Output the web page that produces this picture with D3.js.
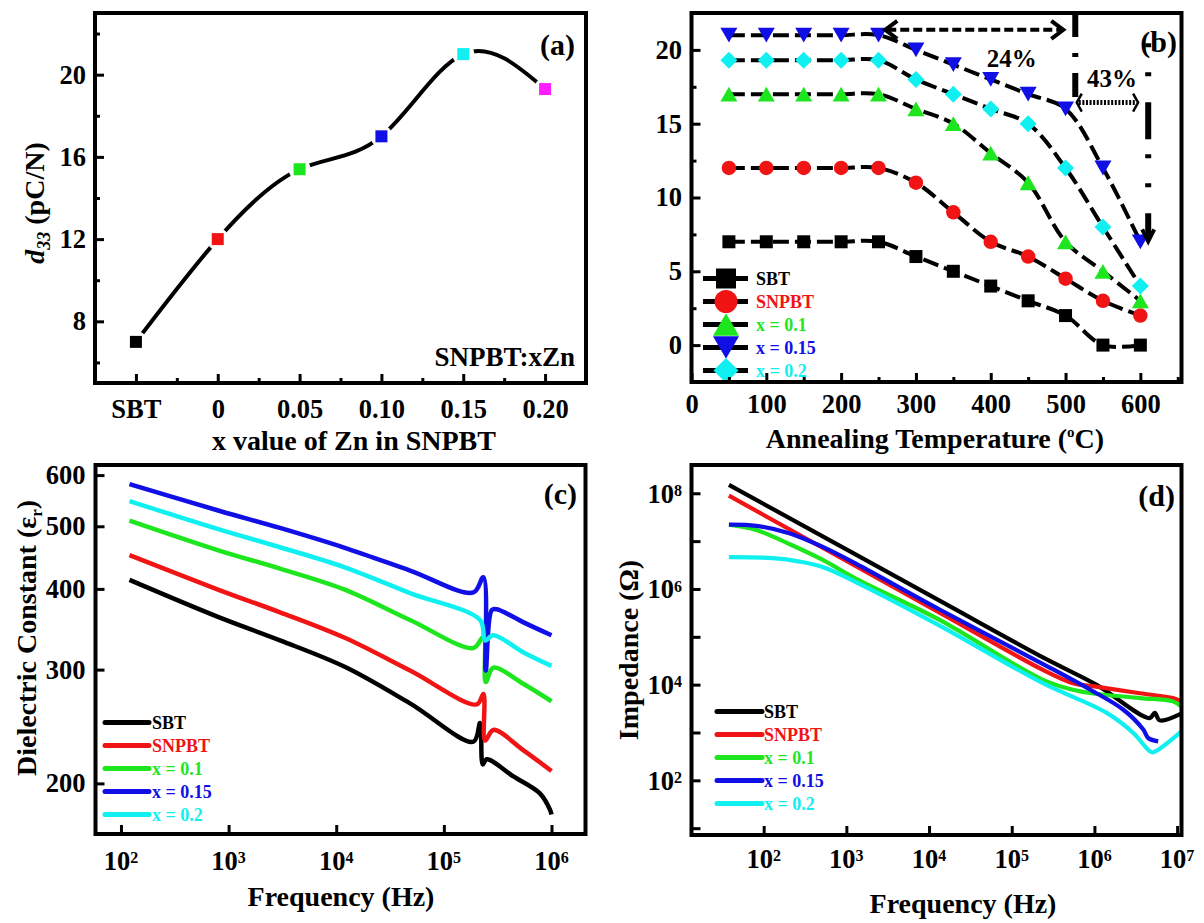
<!DOCTYPE html>
<html>
<head>
<meta charset="utf-8">
<script src="https://cdn.jsdelivr.net/npm/d3@7"></script>
<style>
  body { margin: 0; background: #fff; }
  svg text { font-family: "Liberation Serif", "Times New Roman", serif; font-weight: bold; }
</style>
</head>
<body>
<svg id="fig" width="1204" height="923"></svg>
<script>
// ---------- (a) d33 versus Zn content ----------
const znLabels = ["SBT", "0", "0.05", "0.10", "0.15", "0.20"];
const d33ByZn = [7, 12, 15.4, 17, 21, 19.3];
const znColors = ["#000000", "#f01414", "#1ee61e", "#0f0fe6", "#10f0f0", "#ff1eff"];

// ---------- (b) d33 versus annealing temperature ----------
const sampleNames = ["SBT", "SNPBT", "x = 0.1", "x = 0.15", "x = 0.2"];
const sampleColors = ["#000000", "#f01414", "#1ee61e", "#0f0fe6", "#10f0f0"];
const annealTemps = [50, 100, 150, 200, 250, 300, 350, 400, 450, 500, 550, 600];
const d33AnnealSBT   = [7, 7, 7, 7, 7, 6, 5, 4, 3, 2, 0, 0];
const d33AnnealSNPBT = [12, 12, 12, 12, 12, 11, 9, 7, 6, 4.5, 3, 2];
const d33AnnealZn010 = [17, 17, 17, 17, 17, 16, 15, 13, 11, 7, 5, 3];
const d33AnnealZn015 = [21, 21, 21, 21, 21, 20, 19, 18, 17, 16, 12, 7];
const d33AnnealZn020 = [19.3, 19.3, 19.3, 19.3, 19.3, 18, 17, 16, 15, 12, 8, 4];
const tempTicks = [0, 100, 200, 300, 400, 500, 600];

// ---------- (c) dielectric constant versus frequency: [Hz, eps_r] ----------
const epsSBT = [[120,413],[830,361],[3000,333],[12000,303],[48500,266],[188000,232],[217000,248],[230000,214],[250000,218],[443000,205],[780000,193],[970000,182],[1000000,179]];
const epsSNPBT = [[120,451],[830,398],[3000,368],[12000,336],[48500,299],[202000,265],[233000,275],[242000,233],[288000,242],[550000,225],[1000000,209]];
const epsZn010 = [[120,510],[830,458],[3000,430],[12000,399],[48500,358],[188000,324],[233000,337],[245000,287],[288000,302],[550000,285],[1000000,268]];
const epsZn015 = [[120,581],[830,528],[3000,497],[12000,463],[48500,427],[188000,395],[233000,417],[245000,299],[279000,371],[310000,372],[550000,355],[1000000,339]];
const epsZn020 = [[120,547],[830,494],[3000,464],[12000,432],[48500,394],[217000,358],[242000,333],[288000,339],[550000,319],[1000000,304]];
const epsTicks = [200, 300, 400, 500, 600];

// ---------- (d) impedance versus frequency: [Hz, ohm] ----------
const zSBT = [[38,1.5e8],[13400,5.7e5],[262000,3.4e4],[1050000,1.0e4],[4640000,2000],[5370000,2570],[6170000,1790],[11200000,2470]];
const zSNPBT = [[38,8.9e7],[13400,3.2e5],[238000,2.04e4],[550000,1.07e4],[1050000,9100],[3550000,6600],[8900000,5250],[11200000,4470]];
const zZn010 = [[38,2.2e7],[81,1.71e7],[204,8.7e6],[525,4.0e6],[1318,1.62e6],[13400,2.26e5],[238000,1.26e4],[550000,7800],[870000,6700],[3550000,5250],[8900000,4470],[11200000,3500]];
const zZn015 = [[38,2.21e7],[81,2.09e7],[204,1.46e7],[525,7.46e6],[1318,3.34e6],[13400,3.72e5],[262000,2.48e4],[890000,7830],[2240000,2990],[3900000,1150],[4470000,767],[5900000,652]];
const zZn020 = [[38,4.61e6],[129,4.4e6],[272,3.73e6],[525,2.85e6],[1318,1.38e6],[13400,1.72e5],[238000,1.07e4],[1410000,2570],[2950000,977],[4680000,404],[5100000,385],[11200000,1047]];

// Arrows marking the d33 drop in (b), in data units
const dropSpans = [
  { from: 259, to: 497, level: 21.36, label: "24%", labelX: 428, labelY: 18.83 },
  { from: 515, to: 597, level: 16.43, label: "43%", labelX: 562, labelY: 17.47 }
];
const dropGuides = [
  { at: 513, top: 22.5, bottom: 16.7 },
  { at: 610.5, top: 20.45, bottom: 7.3 }
];

const svg = d3.select("#fig");
const TICK_FS = 26.5;
const TITLE_FS = 28;

function styleAxis(a) {
  a.attr("font-family", null).attr("font-size", null);
  a.select(".domain").remove();
  a.selectAll(".tick line").attr("stroke", "#000").attr("stroke-width", 3);
  a.selectAll(".tick text").attr("fill", "#000").style("font-size", TICK_FS + "px");
}
function bottomTicks(x, y, values, len, fmt, pad) {
  const a = svg.append("g").attr("transform", `translate(0,${y.range()[0]})`)
    .call(d3.axisBottom(x).tickValues(values).tickSizeInner(-len).tickSizeOuter(0)
      .tickPadding(pad || 0).tickFormat(fmt || (() => "")));
  styleAxis(a);
  return a;
}
function leftTicks(x, y, values, len, fmt, pad) {
  const a = svg.append("g").attr("transform", `translate(${x.range()[0]},0)`)
    .call(d3.axisLeft(y).tickValues(values).tickSizeInner(-len).tickSizeOuter(0)
      .tickPadding(pad || 0).tickFormat(fmt || (() => "")));
  styleAxis(a);
  return a;
}
function drawFrame(x, y) {
  const [x0, x1] = x.range();
  const [yb, yt] = y.range();
  svg.append("rect").attr("x", x0).attr("y", yt).attr("width", x1 - x0).attr("height", yb - yt)
    .attr("fill", "none").attr("stroke", "#000").attr("stroke-width", 4);
}
function powerLabel(px, py, exp, anchor) {
  const t = svg.append("text").attr("x", px).attr("y", py).attr("text-anchor", anchor)
    .style("font-size", TICK_FS + "px");
  t.append("tspan").text("10");
  t.append("tspan").attr("dy", "-0.42em").style("font-size", "16px").text(exp);
  return t;
}
function panelTag(px, py, s) {
  svg.append("text").attr("x", px).attr("y", py).attr("text-anchor", "end")
    .style("font-size", "30px").text(s);
}
function markerPath(shape, s) {
  const h = s / 2, t = 0.435 * s;
  switch (shape) {
    case "square": return `M${-h},${-h}H${h}V${h}H${-h}Z`;
    case "circle": return `M${h},0A${h},${h} 0 1,1 ${-h},0A${h},${h} 0 1,1 ${h},0Z`;
    case "up": return `M0,${-t}L${h},${t}L${-h},${t}Z`;
    case "down": return `M0,${t}L${h},${-t}L${-h},${-t}Z`;
    default: return `M0,${-h}L${h},0L0,${h}L${-h},0Z`;
  }
}

// ================= panel (a) =================
{
  const x = d3.scaleLinear().domain([-0.5, 5.5]).range([95, 586]);
  const y = d3.scaleLinear().domain([5, 23]).range([383, 13]);
  const line = d3.line().x((d, i) => x(i)).y(d => y(d)).curve(d3.curveNatural);
  svg.append("path").datum(d33ByZn).attr("d", line)
    .attr("fill", "none").attr("stroke", "#000").attr("stroke-width", 4);
  // gap around each symbol
  svg.append("g").selectAll("circle").data(d33ByZn).join("circle")
    .attr("cx", (d, i) => x(i)).attr("cy", d => y(d)).attr("r", 11).attr("fill", "#fff");
  svg.append("g").selectAll("rect").data(d33ByZn).join("rect")
    .attr("x", (d, i) => x(i) - 6).attr("y", d => y(d) - 6).attr("width", 12).attr("height", 12)
    .attr("fill", (d, i) => znColors[i]);

  drawFrame(x, y);
  bottomTicks(x, y, d3.range(znLabels.length), 9, i => znLabels[i], 16.5);
  bottomTicks(x, y, [0.5, 1.5, 2.5, 3.5, 4.5], 5);
  leftTicks(x, y, [8, 12, 16, 20], 9, d3.format("d"), 9);
  leftTicks(x, y, [6, 10, 14, 18, 22], 5);

  svg.append("text").attr("x", 354).attr("y", 450).attr("text-anchor", "middle")
    .style("font-size", TITLE_FS + "px").text("x value of Zn in SNPBT");
  const yt = svg.append("text").attr("transform", "translate(44,203) rotate(-90)")
    .attr("text-anchor", "middle").style("font-size", TITLE_FS + "px");
  yt.append("tspan").style("font-style", "italic").text("d");
  yt.append("tspan").style("font-style", "italic").style("font-size", "18px").attr("dy", 6).text("33");
  yt.append("tspan").attr("dy", -6).text(" (pC/N)");

  svg.append("text").attr("x", 575).attr("y", 366).attr("text-anchor", "end")
    .style("font-size", "27px").text("SNPBT:xZn");
  panelTag(575, 55, "(a)");
}

// ================= panel (b) =================
{
  const x = d3.scaleLinear().domain([0, 655]).range([691.5, 1181.5]);
  const y = d3.scaleLinear().domain([-2.5, 22.5]).range([382, 13]);
  const series = [d33AnnealSBT, d33AnnealSNPBT, d33AnnealZn010, d33AnnealZn015, d33AnnealZn020];
  const shapes = ["square", "circle", "up", "down", "diamond"];
  const plotSize = [13, 14.5, 17, 17, 17];
  const legendSize = [20, 23, 26, 26, 25];
  const line = d3.line().x((d, i) => x(annealTemps[i])).y(d => y(d)).curve(d3.curveCatmullRom.alpha(0.5));

  series.forEach((vals, k) => {
    svg.append("path").datum(vals).attr("d", line).attr("fill", "none")
      .attr("stroke", "#000").attr("stroke-width", 4).attr("stroke-dasharray", "16,6");
  });
  series.forEach((vals, k) => {
    svg.append("g").selectAll("path").data(vals).join("path")
      .attr("transform", (d, i) => `translate(${x(annealTemps[i])},${y(d)})`)
      .attr("d", markerPath(shapes[k], plotSize[k])).attr("fill", sampleColors[k]);
  });

  // drop annotations
  dropSpans.forEach((s, k) => {
    const py = y(s.level), xa = x(s.from), xb = x(s.to);
    const dashed = k === 0;
    svg.append("line").attr("x1", xa + 2).attr("x2", xb - 2).attr("y1", py).attr("y2", py)
      .attr("stroke", "#000").attr("stroke-width", dashed ? 4 : 5)
      .attr("stroke-dasharray", dashed ? "9,4" : "2,1.6");
    const w = dashed ? 12 : 5, hh = 9;
    svg.append("path")
      .attr("d", `M${xa + w},${py - hh}L${xa},${py}L${xa + w},${py + hh}M${xb - w},${py - hh}L${xb},${py}L${xb - w},${py + hh}`)
      .attr("fill", "none").attr("stroke", "#000").attr("stroke-width", dashed ? 4 : 2.5);
    svg.append("text").attr("x", x(s.labelX)).attr("y", y(s.labelY)).attr("text-anchor", "middle")
      .style("font-size", "25px").text(s.label);
  });
  dropGuides.forEach((g, k) => {
    const px = x(g.at);
    svg.append("line").attr("x1", px).attr("x2", px).attr("y1", y(g.top)).attr("y2", y(g.bottom))
      .attr("stroke", "#000").attr("stroke-width", 6)
      .attr("stroke-dasharray", k === 0 ? "24,16,4,16" : "4,25,4,26,37,15");
    if (k === 1) {
      const py = y(g.bottom) + 4;
      svg.append("path").attr("d", `M${px - 6},${py - 12}L${px},${py}L${px + 6},${py - 12}`)
        .attr("fill", "none").attr("stroke", "#000").attr("stroke-width", 4);
    }
  });

  // legend
  const ly0 = 278.5, lstep = 23;
  sampleNames.forEach((name, k) => {
    const ly = ly0 + k * lstep;
    svg.append("line").attr("x1", 703).attr("x2", 748).attr("y1", ly).attr("y2", ly)
      .attr("stroke", "#000").attr("stroke-width", 5);
    svg.append("path").attr("transform", `translate(726,${ly})`)
      .attr("d", markerPath(shapes[k], legendSize[k])).attr("fill", sampleColors[k]);
    svg.append("text").attr("x", 756).attr("y", ly + 6).style("font-size", "18px")
      .attr("fill", sampleColors[k]).text(name);
  });

  drawFrame(x, y);
  bottomTicks(x, y, tempTicks, 9, d3.format("d"), 12);
  bottomTicks(x, y, [50, 150, 250, 350, 450, 550, 650], 5);
  leftTicks(x, y, [0, 5, 10, 15, 20], 9, d3.format("d"), 9.5);
  leftTicks(x, y, [2.5, 7.5, 12.5, 17.5], 5);

  const xt = svg.append("text").attr("x", 935).attr("y", 448).attr("text-anchor", "middle")
    .style("font-size", TITLE_FS + "px");
  xt.append("tspan").text("Annealing Temperature (");
  xt.append("tspan").attr("dy", -11).style("font-size", "15px").text("o");
  xt.append("tspan").attr("dy", 11).text("C)");
  panelTag(1177, 52, "(b)");
}

// ================= panel (c) =================
{
  const x = d3.scaleLog().domain([58, 2.07e6]).range([95.5, 585.5]);
  const y = d3.scaleLog().domain([167, 622]).range([834, 465]);
  const series = [epsSBT, epsSNPBT, epsZn010, epsZn015, epsZn020];
  const line = d3.line().x(d => x(d[0])).y(d => y(d[1])).curve(d3.curveCatmullRom.alpha(0.5));
  series.forEach((s, k) => {
    svg.append("path").datum(s).attr("d", line).attr("fill", "none")
      .attr("stroke", sampleColors[k]).attr("stroke-width", 4.5).attr("stroke-linejoin", "round");
  });
  const ly0 = 722.5, lstep = 23;
  sampleNames.forEach((name, k) => {
    const ly = ly0 + k * lstep;
    svg.append("line").attr("x1", 105).attr("x2", 149).attr("y1", ly).attr("y2", ly)
      .attr("stroke", sampleColors[k]).attr("stroke-width", 5).attr("stroke-linecap", "round");
    svg.append("text").attr("x", 152).attr("y", ly + 6).style("font-size", "18px")
      .attr("fill", sampleColors[k]).text(name);
  });

  drawFrame(x, y);
  const decades = [1e2, 1e3, 1e4, 1e5, 1e6];
  bottomTicks(x, y, decades, 9);
  decades.forEach(v => powerLabel(x(v), 870, Math.round(Math.log10(v)), "middle"));
  leftTicks(x, y, epsTicks, 9, d3.format("d"), 10);

  svg.append("text").attr("x", 341).attr("y", 906).attr("text-anchor", "middle")
    .style("font-size", TITLE_FS + "px").text("Frequency (Hz)");
  const yt = svg.append("text").attr("transform", "translate(36,638) rotate(-90)")
    .attr("text-anchor", "middle").style("font-size", TITLE_FS + "px");
  yt.append("tspan").text("Dielectric Constant (\u03b5");
  yt.append("tspan").attr("dy", 6).style("font-size", "17px").text("r");
  yt.append("tspan").attr("dy", -6).text(")");
  panelTag(577, 504, "(c)");
}

// ================= panel (d) =================
{
  const x = d3.scaleLog().domain([13.4, 1.13e7]).range([691.5, 1181.5]);
  const y = d3.scaleLog().domain([7.2, 3.9e8]).range([835, 465]);
  const series = [zSBT, zSNPBT, zZn010, zZn015, zZn020];
  const line = d3.line().x(d => x(d[0])).y(d => y(d[1])).curve(d3.curveCatmullRom.alpha(0.5));
  series.forEach((s, k) => {
    svg.append("path").datum(s).attr("d", line).attr("fill", "none")
      .attr("stroke", sampleColors[k]).attr("stroke-width", 4.2).attr("stroke-linejoin", "round");
  });
  const ly0 = 711.5, lstep = 23;
  sampleNames.forEach((name, k) => {
    const ly = ly0 + k * lstep;
    svg.append("line").attr("x1", 717).attr("x2", 762).attr("y1", ly).attr("y2", ly)
      .attr("stroke", sampleColors[k]).attr("stroke-width", 5).attr("stroke-linecap", "round");
    svg.append("text").attr("x", 764).attr("y", ly + 6).style("font-size", "18px")
      .attr("fill", sampleColors[k]).text(name);
  });

  drawFrame(x, y);
  const xDecades = [1e2, 1e3, 1e4, 1e5, 1e6, 1e7];
  bottomTicks(x, y, xDecades, 9);
  xDecades.forEach(v => powerLabel(x(v), 868, Math.round(Math.log10(v)), "middle"));
  const yDecades = [1e1, 1e2, 1e3, 1e4, 1e5, 1e6, 1e7, 1e8];
  leftTicks(x, y, yDecades, 9);
  [1e2, 1e4, 1e6, 1e8].forEach(v => powerLabel(682, y(v) + 9.5, Math.round(Math.log10(v)), "end"));

  svg.append("text").attr("x", 963).attr("y", 913).attr("text-anchor", "middle")
    .style("font-size", TITLE_FS + "px").text("Frequency (Hz)");
  svg.append("text").attr("transform", "translate(638,650) rotate(-90)")
    .attr("text-anchor", "middle").style("font-size", TITLE_FS + "px").text("Impedance (\u03a9)");
  panelTag(1175, 506, "(d)");
}
</script>
</body>
</html>
